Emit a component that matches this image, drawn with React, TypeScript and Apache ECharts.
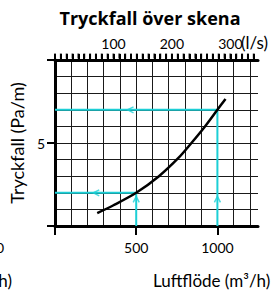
import React, { useEffect, useRef } from "react";
import * as echarts from "echarts";

// Pressure drop curve
const flowM3h = [260, 360, 500, 640, 760, 840, 920, 1000, 1050];
const pressurePaM = [0.78, 1.25, 2.0, 3.0, 4.1, 5.0, 5.95, 7.0, 7.65];

// Cyan reading guides
const guideLowX = [0, 500, 500];
const guideLowY = [2, 2, 0];
const guideHighX = [0, 1000, 1000];
const guideHighY = [7, 7, 0];

// Arrow positions on guides
const arrowLeftX = [254, 465];
const arrowLeftY = [2, 7];
const arrowUpX = [500, 1000];
const arrowUpY = [1.6, 1.6];

// Tick labels / tick positions
const bottomLabels = [500, 1000];
const bottomTicks = [0, 500, 1000];
const topLabels = [100, 200, 300];
const topTicks = [
  0, 10, 20, 30, 40, 50, 60, 70, 80, 90, 100, 110, 120, 130, 140, 150, 160, 170,
  180, 190, 200, 210, 220, 230, 240, 250, 260, 270, 280, 290, 300, 310, 320,
  330, 340,
];
const yLabels = [5];
const yTicks = [0, 5, 10];

const X_MAX = 1250;
const Y_MAX = 10;
const M3H_PER_LS = 3.6;

const CYAN = "#1ccfd6";
const FONT = "Lato";
const GRID_COLOR = "#1a1a1a";

const zip = (xs: number[], ys: number[]) => xs.map((x, i) => [x, ys[i]]);

export default function App() {
  const ref = useRef<HTMLDivElement>(null);
  useEffect(() => {
    if (!ref.current) return;
    const chart = echarts.init(ref.current, null, { renderer: "svg" });
    chart.setOption({
      animation: false,
      backgroundColor: "#ffffff",
      textStyle: { fontFamily: FONT },
      grid: { left: 49, top: 60, right: 13, bottom: 65, containLabel: false },
      xAxis: [
        {
          // secondary scale in l/s
          type: "value",
          position: "top",
          min: 0,
          max: X_MAX / M3H_PER_LS,
          interval: 10,
          axisLine: {
            show: true,
            onZero: false,
            lineStyle: { color: "#000", width: 3 },
          },
          axisTick: {
            show: true,
            inside: false,
            customValues: topTicks,
            length: 6,
            lineStyle: { color: "#000", width: 2 },
          },
          axisLabel: {
            customValues: topLabels,
            formatter: (v: number) => String(v),
            fontSize: 14,
            color: "#000",
            fontFamily: FONT,
            margin: 10,
          },
          splitLine: { show: false },
        },
        {
          type: "value",
          position: "bottom",
          min: 0,
          max: X_MAX,
          interval: 100,
          axisLine: {
            show: true,
            onZero: false,
            lineStyle: { color: "#000", width: 3 },
          },
          axisTick: {
            show: true,
            customValues: bottomTicks,
            length: 9,
            lineStyle: { color: "#000", width: 2 },
          },
          axisLabel: {
            customValues: bottomLabels,
            formatter: (v: number) => String(v),
            fontSize: 14,
            color: "#000",
            fontFamily: FONT,
            margin: 14,
          },
          splitLine: { show: false },
        },
        {
          // helper axis drawing vertical grid lines
          type: "value",
          position: "bottom",
          min: 0,
          max: X_MAX,
          interval: 100,
          axisLine: { show: false, onZero: false },
          axisTick: { show: false },
          axisLabel: { show: false },
          splitLine: {
            show: true,
            showMinLine: false,
            showMaxLine: false,
            lineStyle: { color: GRID_COLOR, width: 1 },
          },
          z: 0,
        },
      ],
      yAxis: [
        {
          type: "value",
          position: "left",
          min: 0,
          max: Y_MAX,
          interval: 1,
          name: "Tryckfall (Pa/m)",
          nameLocation: "middle",
          nameGap: 23,
          nameTextStyle: { fontSize: 18, color: "#000", fontFamily: FONT },
          axisLine: {
            show: true,
            onZero: false,
            lineStyle: { color: "#000", width: 3 },
          },
          axisTick: {
            show: true,
            customValues: yTicks,
            length: 8,
            lineStyle: { color: "#000", width: 2 },
          },
          axisLabel: {
            customValues: yLabels,
            fontSize: 14,
            color: "#000",
            fontFamily: FONT,
            margin: 10,
          },
          splitLine: { show: false },
        },
        {
          // helper axis drawing horizontal grid lines
          type: "value",
          position: "left",
          min: 0,
          max: Y_MAX,
          interval: 1,
          axisLine: { show: false, onZero: false },
          axisTick: { show: false },
          axisLabel: { show: false },
          splitLine: {
            show: true,
            showMinLine: false,
            showMaxLine: false,
            lineStyle: { color: GRID_COLOR, width: 1 },
          },
          z: 0,
        },
      ],
      graphic: [
        {
          type: "text",
          x: 150,
          y: 18,
          style: {
            text: "Tryckfall över skena",
            fontFamily: "Open Sans",
            fontWeight: "bold",
            fontSize: 18,
            fill: "#000",
            textAlign: "center",
            textVerticalAlign: "middle",
          },
        },
        {
          type: "text",
          x: 241,
          y: 42,
          style: {
            text: "(l/s)",
            fontFamily: FONT,
            fontSize: 17,
            fill: "#000",
            textAlign: "left",
            textVerticalAlign: "middle",
          },
        },
        {
          type: "text",
          x: 153,
          y: 280,
          style: {
            text: "Luftflöde (m³/h)",
            fontFamily: FONT,
            fontSize: 17,
            fill: "#000",
            textAlign: "left",
            textVerticalAlign: "middle",
          },
        },
        {
          type: "text",
          x: 4,
          y: 247,
          style: {
            text: "1000",
            fontFamily: FONT,
            fontSize: 14,
            fill: "#000",
            textAlign: "right",
            textVerticalAlign: "middle",
          },
        },
        {
          type: "text",
          x: 12,
          y: 280,
          style: {
            text: "(m³/h)",
            fontFamily: FONT,
            fontSize: 17,
            fill: "#000",
            textAlign: "right",
            textVerticalAlign: "middle",
          },
        },
      ],
      series: [
        {
          // comb of l/s minor ticks above the top axis
          type: "scatter",
          xAxisIndex: 0,
          yAxisIndex: 0,
          data: topTicks.map((t) => [t, Y_MAX]),
          symbol: "rect",
          symbolSize: [2, 5],
          symbolOffset: [0, -4],
          itemStyle: { color: "#000" },
          clip: false,
          silent: true,
          z: 5,
        },
        {
          type: "line",
          xAxisIndex: 1,
          yAxisIndex: 0,
          data: zip(guideHighX, guideHighY),
          symbol: "none",
          lineStyle: { color: CYAN, width: 2 },
          z: 3,
        },
        {
          type: "line",
          xAxisIndex: 1,
          yAxisIndex: 0,
          data: zip(guideLowX, guideLowY),
          symbol: "none",
          lineStyle: { color: CYAN, width: 2 },
          z: 3,
        },
        {
          type: "scatter",
          xAxisIndex: 1,
          yAxisIndex: 0,
          data: zip(arrowLeftX, arrowLeftY),
          symbol: "path://M8,0L0,5L8,10",
          symbolSize: [6, 6],
          itemStyle: { color: "transparent", borderColor: CYAN, borderWidth: 1.5 },
          z: 3,
        },
        {
          type: "scatter",
          xAxisIndex: 1,
          yAxisIndex: 0,
          data: zip(arrowUpX, arrowUpY),
          symbol: "path://M0,8L5,0L10,8",
          symbolSize: [6, 6],
          itemStyle: { color: "transparent", borderColor: CYAN, borderWidth: 1.5 },
          z: 3,
        },
        {
          type: "line",
          xAxisIndex: 1,
          yAxisIndex: 0,
          data: zip(flowM3h, pressurePaM),
          smooth: 0.3,
          symbol: "none",
          lineStyle: { color: "#000", width: 2.5 },
          z: 4,
        },
      ],
    });
    return () => chart.dispose();
  }, []);
  return (
    <div
      ref={ref}
      style={{ position: "absolute", left: 0, top: 0, width: 271, height: 291 }}
    />
  );
}
